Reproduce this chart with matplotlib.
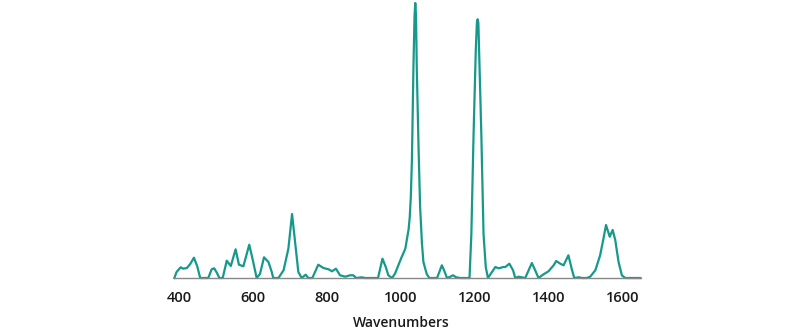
import matplotlib
matplotlib.use("Agg")
import matplotlib.pyplot as plt

# spectrum: wavenumber (cm-1) and intensity (a.u.)
wavenumber = [386, 392, 403, 410, 420, 429, 439, 448, 456, 478, 487, 494, 501, 508,
              517, 528, 539, 552, 561, 573, 589, 599, 609, 618, 629, 641, 650, 654,
              668, 682, 695, 705, 715, 722, 731, 742, 749, 760, 776, 790, 804, 813,
              824, 835, 849, 862, 871, 879, 894, 903, 938, 950, 959, 966, 976, 984,
              1001, 1012, 1021, 1024, 1027, 1030, 1034, 1037, 1039, 1041, 1043, 1048,
              1052, 1057, 1061, 1070, 1077, 1098, 1111, 1117, 1125, 1134, 1141, 1150,
              1161, 1186, 1191, 1197, 1203, 1206, 1208, 1210, 1212, 1218, 1224, 1230,
              1236, 1247, 1256, 1265, 1278, 1283, 1294, 1304, 1310, 1319, 1328, 1337,
              1355, 1364, 1373, 1385, 1400, 1414, 1421, 1432, 1441, 1454, 1464, 1470,
              1482, 1491, 1504, 1513, 1527, 1540, 1549, 1556, 1566, 1574, 1581, 1590,
              1599, 1608, 1649]
intensity = [0, 6, 10.7, 9.3, 10, 14, 20.3, 11.7, 0, 0, 8.7, 9.7, 5.3, 0,
             0, 17.3, 12, 28.7, 13.3, 11.7, 33.3, 17.3, 0, 4, 20.7, 16, 6, 0,
             0, 7.7, 29.3, 64, 29.3, 6, 0, 3.3, 0, 0, 13.3, 10, 8.7, 6.7,
             9.3, 2.7, 1.3, 2.7, 2.7, 0, 0.7, 0, 0, 19.3, 11, 2.7, 0, 4.3,
             20, 29.3, 49, 61, 82, 120, 211, 262, 275, 262, 211, 128,
             72, 35, 16, 4, 0, 0, 12.7, 7.7, 0, 1.3, 2.7, 0.7,
             0, 0, 44, 144, 228, 255, 258.7, 255, 228, 144, 44, 11,
             0, 6, 11, 9.7, 11, 11, 14.3, 7.7, 0, 1.3, 0.7, 0,
             15, 7.7, 0, 3.3, 6.7, 12.7, 17, 14.3, 12.7, 22.7, 7.7, 0,
             0.7, 0, 0, 1.3, 7.7, 22.7, 39.3, 53, 41.3, 48, 38, 16,
             2.7, 0, 0]

tick_values = [400, 600, 800, 1000, 1200, 1400, 1600]

plt.rcParams['font.family'] = ['Open Sans', 'DejaVu Sans']

fig = plt.figure(figsize=(8, 3.35), dpi=100)
ax = fig.add_axes([174 / 800, (335 - 278) / 335, 466.7 / 800, 276 / 335])

ax.plot(wavenumber, intensity, color="#16998b", linewidth=1.6, clip_on=False,
        solid_joinstyle="round")

ax.set_xlim(385, 1650)
ax.set_ylim(0, 276)
ax.set_xticks(tick_values)
ax.set_xticklabels([str(v) for v in tick_values])
ax.set_yticks([])
ax.tick_params(axis="x", length=0, pad=9, labelsize=10.5, labelcolor="#1a1a1a")
for lbl in ax.get_xticklabels():
    lbl.set_fontweight("semibold")

for side in ["top", "right", "left"]:
    ax.spines[side].set_visible(False)
ax.spines["bottom"].set_color("#888888")
ax.spines["bottom"].set_linewidth(1.0)

ax.set_xlabel("Wavenumbers", fontsize=10, fontweight="semibold", color="#1a1a1a")
ax.xaxis.set_label_coords((401 - 174) / 466.7, -38 / 276)

fig.savefig("out.png", dpi=100)
